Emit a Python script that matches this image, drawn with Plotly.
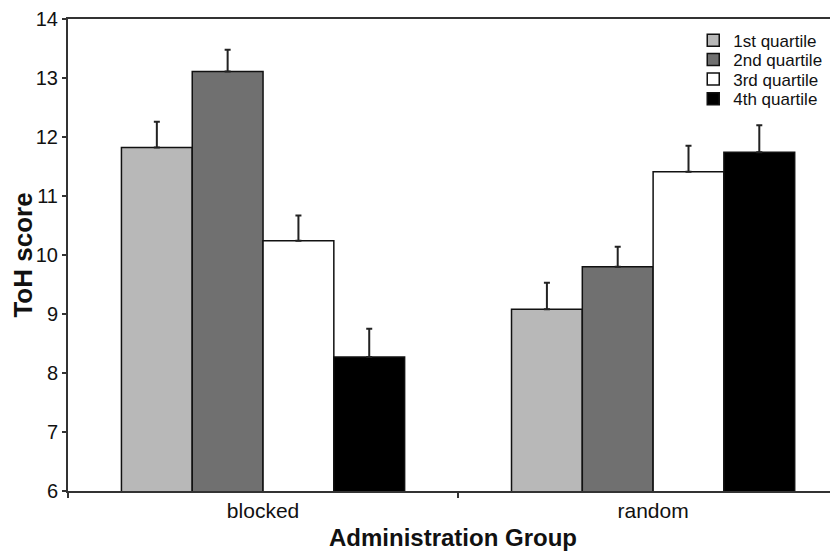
import plotly.graph_objects as go

groups = ["blocked", "random"]
quartiles = ["1st quartile", "2nd quartile", "3rd quartile", "4th quartile"]
q1 = [11.82, 9.08]
q2 = [13.11, 9.80]
q3 = [10.24, 11.41]
q4 = [8.27, 11.74]
q1_err = [0.44, 0.45]
q2_err = [0.37, 0.34]
q3_err = [0.43, 0.44]
q4_err = [0.48, 0.46]
colors = ["#b8b8b8", "#707070", "#ffffff", "#000000"]

values = [q1, q2, q3, q4]
errors = [q1_err, q2_err, q3_err, q4_err]
legend_ids = ["legend", "legend2", "legend3", "legend4"]

fig = go.Figure()
for name, v, e, c, lg in zip(quartiles, values, errors, colors, legend_ids):
    fig.add_trace(go.Bar(
        x=groups, y=v, name=name, legend=lg,
        marker=dict(color=c, line=dict(color="#111111", width=1.5)),
        error_y=dict(type="data", array=e, arrayminus=[0] * len(e), symmetric=False,
                     color="#222222", thickness=2, width=3),
    ))

FONT = "Liberation Sans, Arial, sans-serif"
legend_rows = [0.954, 0.913, 0.872, 0.830]


def legend_cfg(yv):
    return dict(x=0.812, y=yv, xanchor="left", yanchor="middle",
                font=dict(family=FONT, size=17, color="#111111"),
                bgcolor="rgba(0,0,0,0)", borderwidth=0)


fig.update_layout(
    width=830, height=543,
    margin=dict(l=60, r=0, t=11, b=54),
    barmode="group", bargap=0.274, bargroupgap=0,
    plot_bgcolor="white", paper_bgcolor="white",
    font=dict(family=FONT, color="#111111", size=20),
    showlegend=True,
    legend=legend_cfg(legend_rows[0]),
    legend2=legend_cfg(legend_rows[1]),
    legend3=legend_cfg(legend_rows[2]),
    legend4=legend_cfg(legend_rows[3]),
    xaxis=dict(
        type="category", range=[-0.5, 1.474], tickson="boundaries",
        ticks="outside", ticklen=5, tickwidth=2, tickcolor="#333333",
        showline=True, linecolor="#333333", linewidth=2, mirror=True,
        showgrid=False, zeroline=False,
        tickfont=dict(family=FONT, size=21, color="#111111"),
        title=dict(text="<b>Administration Group</b>", standoff=12,
                   font=dict(family=FONT, size=24, color="#111111")),
    ),
    yaxis=dict(
        range=[6, 14], dtick=1, tick0=6,
        ticks="outside", ticklen=4, tickwidth=2, tickcolor="#333333",
        showline=True, linecolor="#333333", linewidth=2,
        showgrid=False, zeroline=False,
        tickfont=dict(family=FONT, size=20, color="#111111"),
        title=dict(text="<b>ToH score</b>", standoff=4,
                   font=dict(family=FONT, size=26, color="#111111")),
    ),
)

fig.write_html("out.html")
